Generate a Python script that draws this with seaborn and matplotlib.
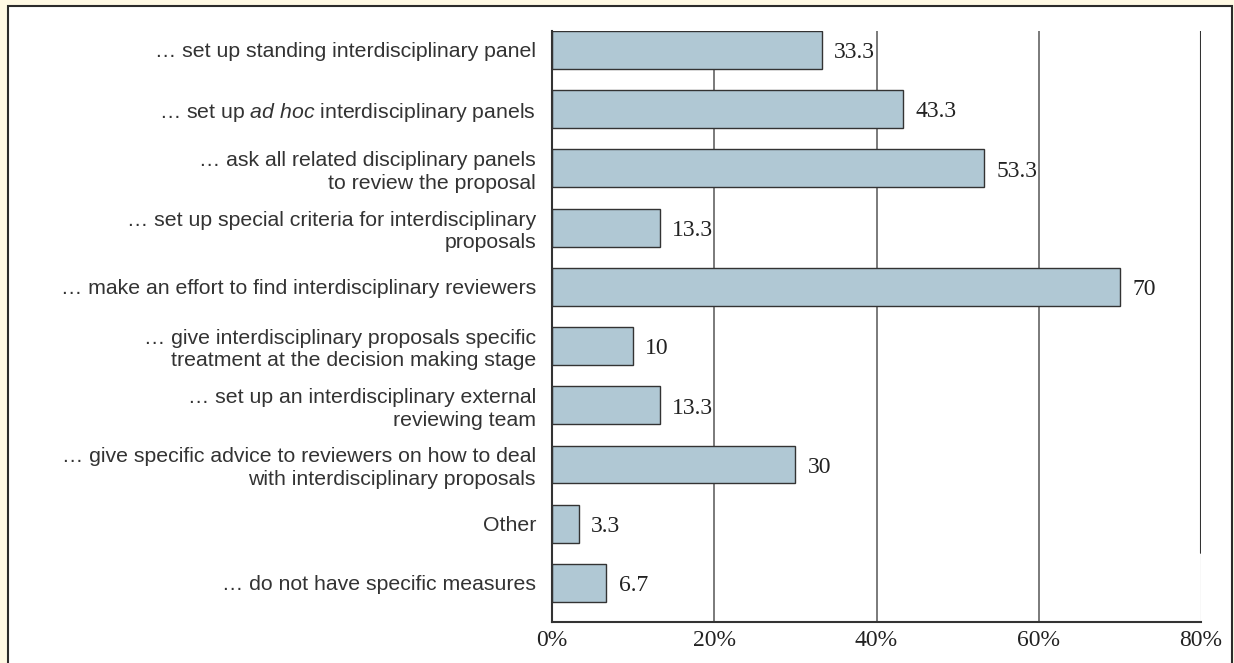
import matplotlib
matplotlib.use("Agg")
import matplotlib.pyplot as plt
import seaborn as sns
import pandas as pd
from matplotlib.patches import Rectangle

# Measures taken by funding agencies for interdisciplinary proposals (% of respondents)
categories = [
    "… set up standing interdisciplinary panel",
    "… set up $\\it{ad\\ hoc}$ interdisciplinary panels",
    "… ask all related disciplinary panels\nto review the proposal",
    "… set up special criteria for interdisciplinary\nproposals",
    "… make an effort to find interdisciplinary reviewers",
    "… give interdisciplinary proposals specific\ntreatment at the decision making stage",
    "… set up an interdisciplinary external\nreviewing team",
    "… give specific advice to reviewers on how to deal\nwith interdisciplinary proposals",
    "Other",
    "… do not have specific measures",
]
values = [33.3, 43.3, 53.3, 13.3, 70, 10, 13.3, 30, 3.3, 6.7]
value_labels = ["33.3", "43.3", "53.3", "13.3", "70", "10", "13.3", "30", "3.3", "6.7"]
x_ticks = [0, 20, 40, 60, 80]
x_ticklabels = ["0%", "20%", "40%", "60%", "80%"]

sns.set_style("white")
plt.rcParams["font.family"] = ["Liberation Sans", "DejaVu Sans"]
plt.rcParams["mathtext.fontset"] = "custom"
plt.rcParams["mathtext.rm"] = "Liberation Sans"
plt.rcParams["mathtext.it"] = "Liberation Sans:italic"

df = pd.DataFrame({"measure": categories, "share": values})

fig = plt.figure(figsize=(12.34, 6.63), dpi=100, facecolor="#FFF9E4")
# white framed panel behind the chart
frame = Rectangle((8 / 1234, -0.02), (1232 - 8) / 1234, 1.02 - 6 / 663,
                  transform=fig.transFigure, facecolor="white",
                  edgecolor="#2b2b2b", linewidth=1.5, zorder=-10)
fig.patches.append(frame)

ax = fig.add_axes([552 / 1234, 1 - 622 / 663, (1201 - 552) / 1234, (622 - 31) / 663])
ax.set_facecolor("none")

sns.barplot(data=df, x="share", y="measure", orient="h", color="#B0C8D4",
            width=0.64, edgecolor="#333333", linewidth=1.0, saturation=1, ax=ax)
for p in ax.patches:
    p.set_zorder(6)

ax.set_xlim(0, 80)
ax.set_ylim(9.66, -0.32)

# vertical reference lines
for xv in x_ticks[1:-1]:
    ax.axvline(xv, color="#7a7a7a", linewidth=1.4, zorder=5)
split = 0.117
ax.axvline(80, ymin=split, ymax=1, color="#333333", linewidth=1.5, zorder=5)
ax.axvline(80, ymin=0, ymax=split, color="#dddddd", linewidth=1.0, zorder=5)

for i, (v, lab) in enumerate(zip(values, value_labels)):
    ax.annotate(lab, xy=(v, i), xytext=(8.8, -2), textcoords="offset points",
                ha="left", va="center", fontsize=17, family="Liberation Serif",
                color="#222222", zorder=4)

ax.set_xticks(x_ticks)
ax.set_xticklabels(x_ticklabels, family="Liberation Serif", fontsize=17, color="#222222")
for lab in ax.get_yticklabels():
    lab.set_fontsize(15.3)
    lab.set_color("#333333")
    lab.set_linespacing(1.22)
ax.tick_params(axis="x", length=0, pad=6)
ax.tick_params(axis="y", length=0, pad=11.5)
ax.set_xlabel("")
ax.set_ylabel("")

for s in ["top", "right"]:
    ax.spines[s].set_visible(False)
for s in ["left", "bottom"]:
    ax.spines[s].set_color("#333333")
    ax.spines[s].set_linewidth(1.5)
    ax.spines[s].set_zorder(7)

fig.savefig("out.png", dpi=100, facecolor=fig.get_facecolor())
